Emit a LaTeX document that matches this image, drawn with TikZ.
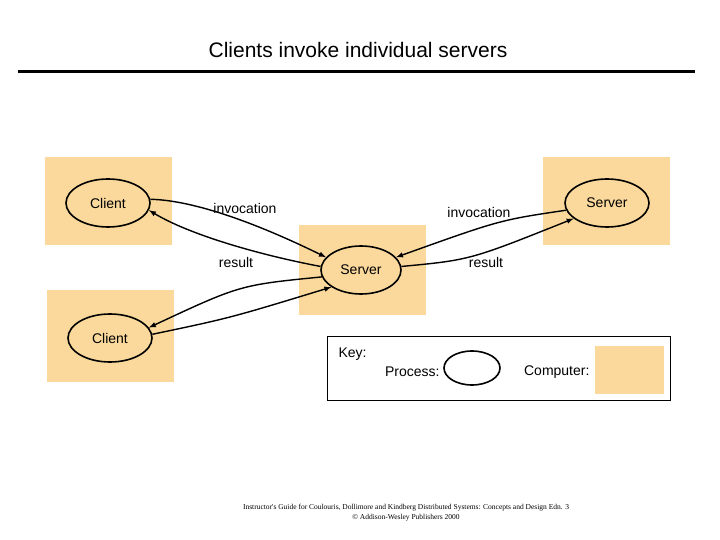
\documentclass[tikz,border=0pt]{standalone}
\usepackage{fontspec}
\setmainfont{Liberation Sans}
\newfontfamily\footfont{Liberation Serif}
\usetikzlibrary{shapes.geometric}
\definecolor{computer}{HTML}{FBD99C}
\begin{document}
\begin{tikzpicture}[x=1pt, y=-1pt,
	process/.style={draw, ellipse, line width=1.6pt, minimum width=84pt, minimum height=48pt, inner sep=0pt, font=\fontsize{14}{16}\selectfont},
	txt/.style={font=\fontsize{14}{16}\selectfont},
	msg/.style={-latex, line width=1.4pt}]
	\useasboundingbox (0,0) rectangle (720,540);
	\node[font=\fontsize{21}{24}\selectfont] (Title) at (358,50) {Clients invoke individual servers};
	\draw[line width=3pt] (18,72) -- (695,72);
	% computers
	\fill[computer] (45,157) rectangle (172,245);
	\fill[computer] (47,290) rectangle (174,382);
	\fill[computer] (299,225) rectangle (426,315);
	\fill[computer] (543,157) rectangle (670,245);
	% processes
	\node[process] (Client1) at (108,203) {Client};
	\node[process] (Client2) at (110,338) {Client};
	\node[process, minimum width=80pt] (Server) at (361,270) {Server};
	\node[process] (ServerR) at (607,203) {Server};
	% messages
	\draw[msg] (Client1.5) .. controls (190,200) and (250,220) .. (Server.160);
	\draw[msg] (Server.175) .. controls (260,255) and (190,235) .. (Client1.-10);
	\draw[msg] (Client2.5) .. controls (230,318) .. (Server.-150);
	\draw[msg] (Server.-170) .. controls (240,285) .. (Client2.15);
	\draw[msg] (ServerR.-170) .. controls (500,220) .. (Server.20);
	\draw[msg] (Server.5) .. controls (470,260) .. (ServerR.-155);
	\node[txt] (Inv1) at (245,208) {invocation};
	\node[txt] (Res1) at (236,262) {result};
	\node[txt] (Inv2) at (479,212) {invocation};
	\node[txt] (Res2) at (486,262) {result};
	% key
	\draw[line width=0.8pt] (327,336) rectangle (670,400);
	\node[txt, anchor=west] (Key) at (335,354) {Key:};
	\node[txt, anchor=east] (KeyProc) at (443,372) {Process:};
	\node[draw, ellipse, line width=1.6pt, minimum width=56pt, minimum height=34pt] (KeyEllipse) at (472,368) {};
	\node[txt, anchor=east] (KeyComp) at (593,372) {Computer:};
	\fill[computer] (595,346) rectangle (664,394);
	% footer
	\node[font=\fontsize{7.5}{10}\footfont, align=center] (Footer) at (406,513) {Instructor's Guide for Coulouris, Dollimore and Kindberg Distributed Systems: Concepts and Design Edn. 3\\ \textcopyright{} Addison-Wesley Publishers 2000};
\end{tikzpicture}
\end{document}
